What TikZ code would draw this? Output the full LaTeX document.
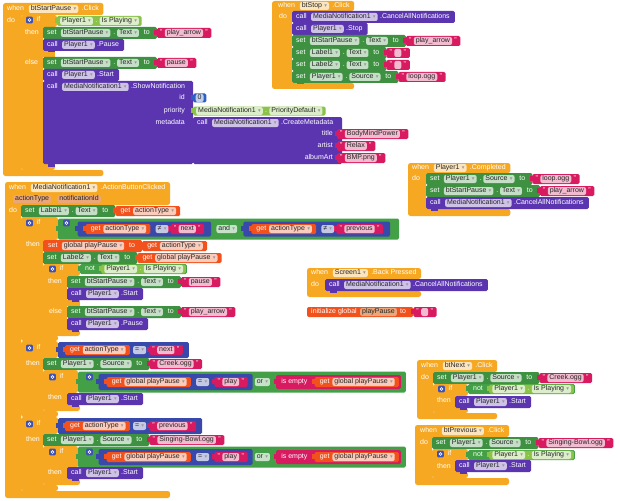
\documentclass[tikz,border=0pt]{standalone}
\usepackage{fontspec}
\setmainfont{Liberation Sans}
\newfontfamily\symf{DejaVu Sans}
\pgfdeclarelayer{L0}\pgfdeclarelayer{L1}\pgfdeclarelayer{L2}\pgfdeclarelayer{L3}
\pgfdeclarelayer{L4}\pgfdeclarelayer{L5}\pgfdeclarelayer{L6}
\pgfsetlayers{L0,L1,L2,L3,L4,L5,L6,main}
\definecolor{cev}{HTML}{F7A823}
\definecolor{cset}{HTML}{3F9142}
\definecolor{cget}{HTML}{8BC34A}
\definecolor{ccall}{HTML}{5B35B0}
\definecolor{cstr}{HTML}{D81B60}
\definecolor{cvar}{HTML}{F2511B}
\definecolor{clog}{HTML}{43A047}
\definecolor{ccmp}{HTML}{3949AB}
\definecolor{cnum}{HTML}{2D5FC4}
\definecolor{cmut}{HTML}{3F51B5}
\definecolor{cpar}{HTML}{EBA779}
\newcommand\fs{\fontsize{7}{8}\selectfont}
\newcommand\arw{\hspace{2.3pt}{\symf\fontsize{5.3}{5}\selectfont\textcolor{black!40}{▾}}}
\tikzset{
 wt/.style={text=white, font=\fs, anchor=west, inner sep=0pt, text height=5.1pt, text depth=1.5pt},
 fd/.style={fill=white, fill opacity=0.7, text opacity=1, text=black!85, font=\fs, anchor=west, inner xsep=2pt, inner ysep=0pt, text height=5.1pt, text depth=1.5pt, minimum height=8pt, rounded corners=2pt},
 pf/.style={fd, fill=cpar, fill opacity=1},
 zp/.style={shape=rectangle, inner sep=0pt, outer sep=0pt, minimum size=0pt},
 gearn/.style={anchor=west, fill=cmut, minimum size=6.6pt, inner sep=0pt, rounded corners=1pt,
   path picture={\fill[white] (path picture bounding box.center) circle (1.8pt);\fill[cmut] (path picture bounding box.center) circle (0.75pt);}},
}
\newcommand\lay[2]{\begin{pgfonlayer}{L#1}#2\end{pgfonlayer}}
% chained row elements
\newcommand\rs[3]{\node[wt] (L) at (#1,#2) {#3};}
\newcommand\rt[2]{\node[wt] (L) at ([xshift=#1pt]L.east) {#2};}
\newcommand\rd[2]{\node[fd] (L) at ([xshift=#1pt]L.east) {#2\arw};}
\newcommand\rf[2]{\node[fd] (L) at ([xshift=#1pt]L.east) {#2};}
\newcommand\rp[2]{\node[pf] (L) at ([xshift=#1pt]L.east) {#2};}
\newcommand\rg[2]{\node[gearn] at ([xshift=#1pt,yshift=#2pt]L.east) {};\node[zp] (L) at ([xshift=#1pt+6.6pt]L.east) {};}
\newcommand\atp[2]{\node[zp] (L) at (#1,#2) {};}
\newcommand\wtr[3]{\node[wt,anchor=east] at (#1,#2) {#3};}
% value blocks
\newcommand\vb[2]{\node[zp] (S#1) at ([xshift=#2pt]L.east) {};\node[zp] (L) at (S#1.center) {};}
\newcommand\ve[4]{\node[zp] (L) at ([xshift=#3pt]L.east) {};\lay{#1}{\fill[#2,rounded corners=1.5pt] ([yshift=#4pt]S#1.center) rectangle ([yshift=-#4pt]L.center);\fill[#2] ([xshift=-2.5pt,yshift=3pt]S#1.center) rectangle ([xshift=1pt,yshift=-2pt]S#1.center);}}
\newcommand\sv[3]{\vb{#1}{#2}\rt{3}{"}\rf{2}{#3}\rt{2}{"}\ve{#1}{cstr}{3.5}{5}}
\newcommand\gv[3]{\vb{#1}{#2}\rt{5}{get}\rd{2.5}{#3}\ve{#1}{cvar}{4}{5}}
% statements
\newcommand\se[5]{\node[zp] (L) at ([xshift=#5pt]L.east) {};\lay{#1}{\fill[#2,rounded corners=1.5pt] (#3,#4-6) rectangle ([yshift=-6pt]L.center);\fill[#2] (#3+5,#4+5) rectangle (#3+12,#4+7.5);}}
\newcommand\setrow[6]{\rs{#3+4}{#4}{set}\rd{4}{#5}\rt{2.5}{.}\rd{1.5}{#6}\rt{4.5}{to}\se{#1}{#2}{#3}{#4}{7}}
\newcommand\callrow[5]{\rs{#2+4}{#3}{call}\rd{4}{#4}\rt{2}{.#5}\se{#1}{ccall}{#2}{#3}{5}}
% C shapes
\newcommand\ev[6]{\node[zp] (H) at ([xshift=4.5pt]L.east) {};\lay{0}{\fill[cev,rounded corners=2.5pt] (#1,#2) -- (H.center |- 0,#2) -- (H.center |- 0,#3) -- (#4,#3) -- (#4,#5) -- (H.center |- 0,#5) -- (H.center |- 0,#6) -- (#1,#6) -- cycle;}}
\newcommand\cif[9]{\lay{#1}{\fill[cev,rounded corners=2.5pt] (#2,#3) -- (#4,#3) -- (#4,#5) -- (#6,#5) -- (#6,#7) -- (#8,#7) -- (#8,#9) -- (#2,#9) -- cycle;}}
\newcommand\ifhd[3]{\node[gearn] at (#1,#2) {};\rs{#1+10.5}{#2}{if}}
\newcommand\notpl[4]{\atp{#2}{#3}\vb{#1}{0}\rt{5}{not}\vb{#4}{6}\rd{3}{Player1}\rt{2}{.}\rd{2}{Is Playing}\ve{#4}{cget}{2.5}{4.5}\ve{#1}{clog}{1}{5}}
\newcommand\orpl[3]{\atp{#2}{#3}\vb{#1}{0}\rg{8}{5}\vb{4}{6}\gv{5}{8}{global playPause}\rd{5}{=}\sv{5}{5}{play}\ve{4}{ccmp}{5}{8}\rd{2}{or}\vb{4}{6}\rt{5}{is empty}\gv{5}{7}{global playPause}\ve{4}{cstr}{2}{7}\ve{#1}{clog}{5}{10.5}}
\begin{document}
\begin{tikzpicture}[x=1pt,y=-1pt]
\useasboundingbox (0,0) rectangle (620,500);
\lay{0}{\fill[white] (0,0) rectangle (620,500);}
% ---------- btStartPause.Click
\rs{7}{9}{when}\rd{4.5}{btStartPause}\rt{3}{.Click}\ev{3}{3}{15}{21}{170}{176}
\rs{7}{21}{do}
\cif{1}{21}{15}{57}{27}{43}{164}{55}{170}
\lay{1}{\fill[cev] (43,50) rectangle (55,57);}
\ifhd{26}{20}{}
\atp{57}{21}\vb{2}{0}\rd{3}{Player1}\rt{2}{.}\rd{2}{Is Playing}\ve{2}{cget}{2.5}{5}
\rs{25}{33}{then}
\setrow{2}{cset}{43}{33}{btStartPause}{Text}\sv{3}{0}{play\_arrow}
\callrow{2}{43}{45}{Player1}{Pause}
\rs{25}{63}{else}
\setrow{2}{cset}{43}{63}{btStartPause}{Text}\sv{3}{0}{pause}
\callrow{2}{43}{75}{Player1}{Start}
\lay{2}{\fill[ccall,rounded corners=1.5pt] (43,81) rectangle (193,164);\fill[ccall] (48,163) rectangle (55,166.5);}
\rs{47}{87}{call}\rd{4}{MediaNotification1}\rt{2}{.ShowNotification}
\wtr{185}{98}{id}\wtr{185}{111}{priority}\wtr{185}{123}{metadata}
\atp{193}{98}\vb{3}{0}\rf{2.5}{0}\ve{3}{cnum}{2.5}{4.5}
\atp{193}{111}\vb{3}{0}\rd{3}{MediaNotification1}\rt{2}{.}\rd{2}{PriorityDefault}\ve{3}{cget}{3}{4.5}
\lay{3}{\fill[ccall,rounded corners=1.5pt] (193,117) rectangle (342,164);\fill[ccall] (190.5,119) rectangle (194,124);}
\rs{197}{123}{call}\rd{4}{MediaNotification1}\rt{2}{.CreateMetadata}
\wtr{333}{134}{title}\wtr{333}{146}{artist}\wtr{333}{158}{albumArt}
\atp{337}{134}\sv{4}{0}{BodyMindPower}
\atp{337}{146}\sv{4}{0}{Relax}
\atp{337}{158}\sv{4}{0}{BMP.png}
% ---------- btStop.Click
\rs{278}{6}{when}\rd{4.5}{btStop}\rt{3}{.Click}\ev{272}{1}{11}{292}{83}{89}
\rs{279}{17}{do}
\callrow{1}{292}{17}{MediaNotification1}{CancelAllNotifications}
\callrow{1}{292}{29}{Player1}{Stop}
\setrow{1}{cset}{292}{41}{btStartPause}{Text}\sv{2}{0}{play\_arrow}
\setrow{1}{cset}{292}{53}{Label1}{Text}\sv{2}{0}{\hspace*{3pt}}
\setrow{1}{cset}{292}{65}{Label2}{Text}\sv{2}{0}{\hspace*{3pt}}
\setrow{1}{cset}{292}{77}{Player1}{Source}\sv{2}{0}{loop.ogg}
% ---------- Player1.Completed
\rs{412}{168}{when}\rd{4.5}{Player1}\rt{3}{.Completed}\ev{408}{163}{173}{426}{209}{216}
\rs{412}{179}{do}
\setrow{1}{cset}{426}{179}{Player1}{Source}\sv{2}{0}{loop.ogg}
\setrow{1}{cset}{426}{191}{btStartPause}{Text}\sv{2}{0}{play\_arrow}
\callrow{1}{426}{203}{MediaNotification1}{CancelAllNotifications}
% ---------- MediaNotification1.ActionButtonClicked
\rs{9}{188}{when}\rd{4.5}{MediaNotification1}\rt{3}{.ActionButtonClicked}\ev{5}{182}{205}{21}{491}{498}
\atp{11}{199}\rp{2}{actionType}\rp{6}{notificationId}
\rs{9}{211}{do}
\setrow{1}{cset}{21}{211}{Label1}{Text}\gv{2}{0}{actionType}
% if 1
\cif{1}{21}{217}{58}{240}{43}{335}{58}{341}
\ifhd{26}{223}{}
\atp{58}{229}\vb{2}{0}\rg{5}{6}%
\vb{3}{8}\gv{4}{8}{actionType}\rd{5}{≠}\sv{4}{2}{next}\ve{3}{ccmp}{7}{7.5}%
\rd{5}{and}%
\vb{3}{6}\gv{4}{8}{actionType}\rd{5}{≠}\sv{4}{2}{previous}\ve{3}{ccmp}{7}{7.5}%
\ve{2}{clog}{9}{10.5}
\rs{26}{245}{then}
\rs{48}{246}{set}\rd{4}{global playPause}\rt{4.5}{to}\se{2}{cvar}{43}{246}{7}\gv{3}{0}{actionType}
\setrow{2}{cset}{43}{258}{Label2}{Text}\gv{3}{0}{global playPause}
\cif{2}{43}{264}{80}{276}{67}{330}{80}{336}
\lay{2}{\fill[cev] (67,300) rectangle (80,306);}
\ifhd{49}{269}{}
\notpl{3}{80}{269}{4}
\rs{48}{282}{then}
\setrow{3}{cset}{67}{282}{btStartPause}{Text}\sv{4}{0}{pause}
\callrow{3}{67}{294}{Player1}{Start}
\rs{49}{312}{else}
\setrow{3}{cset}{67}{312}{btStartPause}{Text}\sv{4}{0}{play\_arrow}
\callrow{3}{67}{324}{Player1}{Pause}
% if 3
\cif{1}{21}{341}{58}{358}{43}{411}{58}{417}
\ifhd{26}{348}{}
\atp{58}{350}\vb{2}{0}\gv{3}{7}{actionType}\rd{3}{=}\sv{3}{3}{next}\ve{2}{ccmp}{6}{8}
\rs{26}{364}{then}
\setrow{2}{cset}{43}{364}{Player1}{Source}\sv{3}{0}{Creek.ogg}
\cif{2}{43}{370}{78}{393}{67}{405}{80}{411}
\ifhd{49}{377}{}
\orpl{3}{78}{382}
\rs{48}{398}{then}
\callrow{3}{67}{399}{Player1}{Start}
% if 5
\cif{1}{21}{417}{58}{434}{43}{485}{58}{491}
\ifhd{26}{424}{}
\atp{58}{426}\vb{2}{0}\gv{3}{7}{actionType}\rd{3}{=}\sv{3}{3}{previous}\ve{2}{ccmp}{6}{8}
\rs{26}{440}{then}
\setrow{2}{cset}{43}{440}{Player1}{Source}\sv{3}{0}{Singing-Bowl.ogg}
\cif{2}{43}{446}{78}{468}{67}{479}{80}{485}
\ifhd{49}{452}{}
\orpl{3}{78}{457}
\rs{48}{473}{then}
\callrow{3}{67}{473}{Player1}{Start}
% ---------- Screen1.BackPressed
\rs{311}{273}{when}\rd{4.5}{Screen1}\rt{3}{.Back Pressed}\ev{307}{268}{279}{325}{291}{297}
\rs{311}{285}{do}
\callrow{1}{325}{285}{MediaNotification1}{CancelAllNotifications}
% ---------- initialize global
\rs{311}{312}{initialize global}\rp{3}{playPause}\rt{3}{to}\node[zp] (L) at ([xshift=7pt]L.east) {};
\lay{0}{\fill[cvar,rounded corners=2pt] (307,307) rectangle ([yshift=-5pt]L.center);}
\sv{1}{0}{\hspace*{3pt}}
% ---------- btNext.Click
\rs{421}{366}{when}\rd{4.5}{btNext}\rt{3}{.Click}\ev{417}{360}{372}{433}{413}{419}
\rs{421}{378}{do}
\setrow{1}{cset}{433}{378}{Player1}{Source}\sv{2}{0}{Creek.ogg}
\cif{1}{433}{384}{468}{396}{455}{408}{468}{413}
\ifhd{438}{389}{}
\notpl{2}{468}{389}{3}
\rs{437}{401}{then}
\callrow{2}{455}{402}{Player1}{Start}
% ---------- btPrevious.Click
\rs{420}{431}{when}\rd{4.5}{btPrevious}\rt{3}{.Click}\ev{415}{425}{437}{432}{478}{485}
\rs{420}{443}{do}
\setrow{1}{cset}{432}{443}{Player1}{Source}\sv{2}{0}{Singing-Bowl.ogg}
\cif{1}{432}{449}{468}{461}{455}{472}{468}{478}
\ifhd{437}{454}{}
\notpl{2}{468}{455}{3}
\rs{437}{467}{then}
\callrow{2}{455}{466}{Player1}{Start}
\end{tikzpicture}
\end{document}
